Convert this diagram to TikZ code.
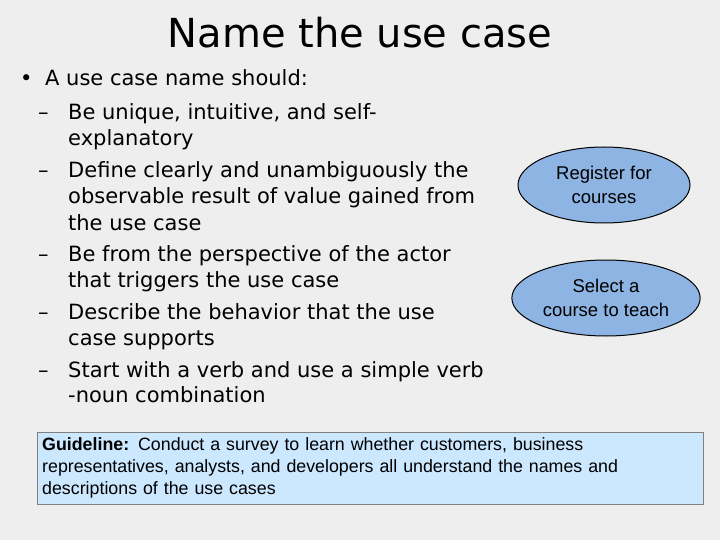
\documentclass[tikz,border=0pt]{standalone}
\usepackage{fontspec}
\setmainfont{DejaVu Sans}
\newfontfamily\arialf{Liberation Sans}
\usetikzlibrary{shapes.geometric}
\begin{document}
\begin{tikzpicture}[x=1pt,y=-1pt,
  body/.style={anchor=base west,inner sep=0pt,font=\fontsize{21}{21}\selectfont},
  uc/.style={ellipse,draw=black,line width=1pt,fill=ucblue,minimum width=172pt,minimum height=76pt,align=center,font=\arialf\fontsize{18.5}{24}\selectfont}]
\definecolor{bg}{RGB}{238,238,238}
\definecolor{ucblue}{RGB}{141,180,226}
\definecolor{gbox}{RGB}{204,232,255}
\fill[bg] (0,0) rectangle (720,540);
\useasboundingbox (0,0) rectangle (720,540);
\node (title) at (360,33) {\fontsize{40}{40}\selectfont Name the use case};
\node[body] (b0) at (20,86) {•};
\node[body] (l0) at (45,86) {A use case name should:};
\node[body] (d1) at (38,120) {–};
\node[body] (l1) at (68,120) {Be unique, intuitive, and self-};
\node[body] (l2) at (68,146) {explanatory};
\node[body] (d2) at (38,178) {–};
\node[body] (l3) at (68,178) {Define clearly and unambiguously the};
\node[body] (l4) at (68,204) {observable result of value gained from};
\node[body] (l5) at (68,230) {the use case};
\node[body] (d3) at (38,261) {–};
\node[body] (l6) at (68,261) {Be from the perspective of the actor};
\node[body] (l7) at (68,287) {that triggers the use case};
\node[body] (d4) at (38,319) {–};
\node[body] (l8) at (68,319) {Describe the behavior that the use};
\node[body] (l9) at (68,345) {case supports};
\node[body] (d5) at (38,377) {–};
\node[body] (l10) at (68,377) {Start with a verb and use a simple verb};
\node[body] (l11) at (68,402) {-noun combination};
\node[uc] (u1) at (604,185) {Register for\\courses};
\node[uc] (u2) at (606,298) {Select a\\course to teach};
\node[draw=gray,fill=gbox,minimum width=666pt,minimum height=72pt,anchor=north west,inner sep=5pt,text width=656pt,align=left,font=\arialf\fontsize{17.8}{22}\selectfont] (g) at (37,432) {\textbf{Guideline:} Conduct a survey to learn whether customers, business\\representatives, analysts, and developers all understand the names and\\descriptions of the use cases};
\end{tikzpicture}
\end{document}
